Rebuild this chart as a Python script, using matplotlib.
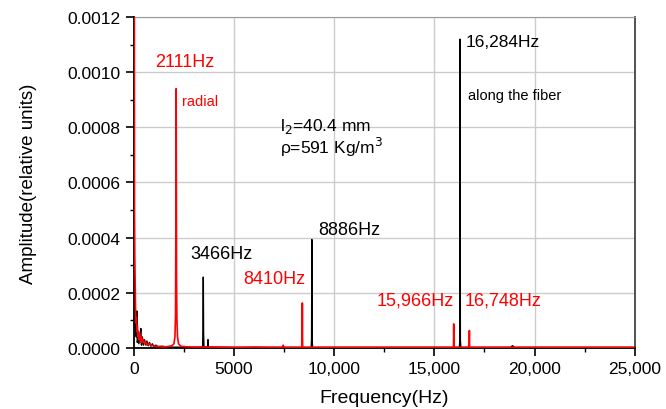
import matplotlib
matplotlib.use("Agg")
from matplotlib import pyplot as plt
from matplotlib.ticker import MultipleLocator, FuncFormatter

plt.rcParams['font.family'] = ['Liberation Sans', 'DejaVu Sans']

# radial spectrum (red), frequency in Hz / amplitude
red_freq = [0, 10, 20, 30, 45, 60, 75, 90, 110, 130, 150, 175, 200, 230, 260, 300,
            340, 380, 430, 480, 540, 600, 680, 760, 850, 950, 1100, 1300, 1500, 1700,
            1900, 2000, 2050, 2080, 2095, 2105, 2111, 2118, 2130, 2150, 2180, 2230,
            2350, 2600, 3000, 4000, 5000, 6000, 7000, 7400, 7450, 7500, 8000, 8390,
            8400, 8410, 8420, 8430, 9000, 12000, 15000, 15950, 15960, 15966, 15972,
            15985, 16700, 16740, 16748, 16756, 16770, 20000, 25000]
red_amp = [0.0013, 0.00075, 0.0013, 0.0005, 0.00033, 0.00026, 0.00018, 0.00012,
           0.00009, 0.00011, 0.00006, 0.00008, 0.00004, 0.00006, 0.00003, 0.00005,
           0.00002, 0.00004, 0.00002, 0.00003, 0.000015, 0.00002, 0.00001, 0.000015,
           0.00001, 0.000008, 0.000006, 0.000005, 0.000004, 0.000005, 0.000008,
           0.000015, 0.00004, 0.00012, 0.0004, 0.00075, 0.00094, 0.0007, 0.00025,
           0.0001, 0.00004, 0.000015, 0.000006, 0.000004, 0.000003, 0.000003,
           0.000002, 0.000003, 0.000002, 0.000002, 0.00001, 0.000002, 0.000002,
           0.000002, 0.00004, 0.000163, 0.00003, 0.000002, 0.000002, 0.000002,
           0.000002, 0.000002, 0.00003, 0.000087, 0.00002, 0.000002, 0.000002,
           0.00002, 0.000063, 0.00001, 0.000002, 0.000002, 0.000002]

# axial spectrum (black)
blk_freq = [0, 15, 30, 50, 70, 90, 120, 150, 170, 200, 250, 300, 350, 380, 420,
            480, 530, 600, 650, 720, 780, 850, 920, 1000, 1100, 1200, 1400, 1700,
            3000, 3430, 3450, 3466, 3480, 3500, 3680, 3700, 3720, 5000, 8850, 8870,
            8886, 8900, 8920, 12000, 16250, 16270, 16284, 16298, 16320, 18800,
            18900, 19000, 25000]
blk_amp = [0.00051, 0.00042, 0.0002, 0.00014, 0.00009, 0.00006, 0.00004, 0.000134,
           0.00002, 0.00003, 0.000015, 0.00004, 0.00007, 0.00001, 0.00004, 0.00001,
           0.00003, 0.00001, 0.000025, 0.000008, 0.00002, 0.000006, 0.000015,
           0.000005, 0.00001, 0.000004, 0.000006, 0.000003, 0.000002, 0.000003,
           0.00006, 0.000257, 0.00005, 0.000003, 0.000003, 0.00003, 0.000003,
           0.000002, 0.000002, 0.00003, 0.000393, 0.00003, 0.000002, 0.000002,
           0.000002, 0.00003, 0.00112, 0.00003, 0.000002, 0.000002, 0.000008,
           0.000002, 0.000002]

red = '#ff0000'

fig = plt.figure(figsize=(6.66, 4.10), dpi=100)
ax = fig.add_axes([0.201, 0.149, 0.752, 0.807])

ax.plot(blk_freq, blk_amp, color='black', lw=1.0, zorder=3)
ax.plot(red_freq, red_amp, color=red, lw=1.2, zorder=4)

ax.set_xlim(0, 25000)
ax.set_ylim(0, 0.0012)
ax.xaxis.set_major_locator(MultipleLocator(5000))
ax.xaxis.set_minor_locator(MultipleLocator(2500))
ax.yaxis.set_major_locator(MultipleLocator(0.0002))
ax.yaxis.set_minor_locator(MultipleLocator(0.0001))
ax.xaxis.set_major_formatter(FuncFormatter(lambda v, p: '0' if v == 0 else ('%d' % v if v < 10000 else '{:,.0f}'.format(v))))
ax.yaxis.set_major_formatter(FuncFormatter(lambda v, p: '%.4f' % v))
ax.grid(True, which='major', color='#cccccc', lw=1.0, zorder=0)
ax.tick_params(which='major', direction='out', length=6, width=1.2, labelsize=12.5, colors='black')
ax.tick_params(which='minor', direction='out', length=3, width=1.0)
ax.tick_params(top=False, right=False, which='both')
ax.spines['left'].set_linewidth(1.3)
ax.spines['bottom'].set_linewidth(1.3)
ax.spines['top'].set_color('#999999')
ax.spines['right'].set_color('#444444')
ax.spines['right'].set_linewidth(1.3)

ax.set_xlabel('Frequency(Hz)', fontsize=14, labelpad=9)
ax.set_ylabel('Amplitude(relative units)', fontsize=13.5, labelpad=22)

fs = 13
ax.text(1050, 0.001037, '2111Hz', color=red, fontsize=fs, va='center')
ax.text(2400, 0.000895, 'radial', color=red, fontsize=10.5, va='center')
ax.text(2800, 0.000344, '3466Hz', color='black', fontsize=fs, va='center')
ax.text(5440, 0.00025, '8410Hz', color=red, fontsize=fs, va='center')
ax.text(9180, 0.000428, '8886Hz', color='black', fontsize=fs, va='center')
ax.text(7290, 0.000805, 'l$_2$=40.4 mm', color='black', fontsize=12.5, va='center')
ax.text(7290, 0.000729, 'ρ=591 Kg/m$^3$', color='black', fontsize=12.5, va='center')
ax.text(12125, 0.000174, '15,966Hz', color=red, fontsize=fs, va='center')
ax.text(16520, 0.000174, '16,748Hz', color=red, fontsize=fs, va='center')
ax.text(16570, 0.00111, '16,284Hz', color='black', fontsize=12.5, va='center')
ax.text(16670, 0.000917, 'along the fiber', color='black', fontsize=10.5, va='center')

fig.savefig('out.png', dpi=100)
